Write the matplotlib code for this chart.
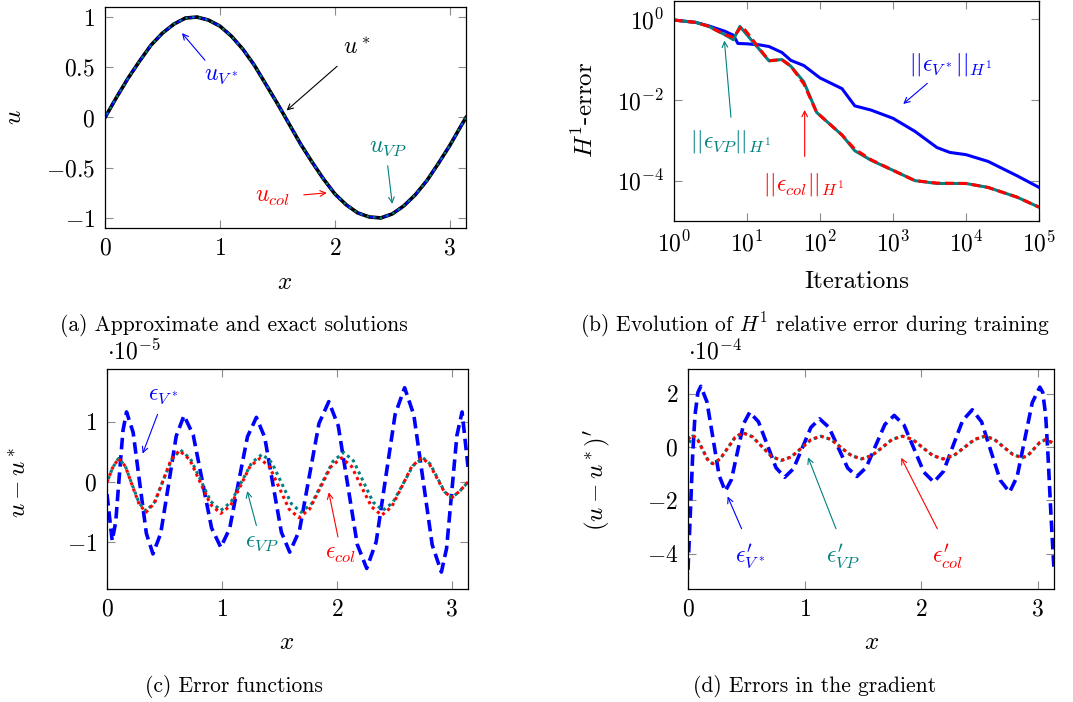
import numpy as np
import matplotlib
matplotlib.use("Agg")
from matplotlib import pyplot as plt
from matplotlib import ticker

plt.rcParams['font.family'] = 'serif'
plt.rcParams['font.serif'] = ['cmr10', 'DejaVu Serif']
plt.rcParams['mathtext.fontset'] = 'cm'
plt.rcParams['axes.formatter.use_mathtext'] = True
plt.rcParams['axes.unicode_minus'] = True

BLUE = (0, 0, 1)
TEAL = (0, 0.5, 0.5)
RED = (1, 0, 0)

# (a) approximate and exact solutions
x_sol = [0, 0.1, 0.2, 0.3, 0.4, 0.5, 0.6, 0.7, 0.8, 0.9, 1.0, 1.1, 1.2, 1.3, 1.4, 1.5,
         1.6, 1.7, 1.8, 1.9, 2.0, 2.1, 2.2, 2.3, 2.4, 2.5, 2.6, 2.7, 2.8, 2.9, 3.0, 3.1, 3.1416]
u_sol = [0, 0.20, 0.39, 0.56, 0.72, 0.84, 0.93, 0.99, 1.0, 0.97, 0.91, 0.81, 0.68, 0.52, 0.33, 0.14,
         -0.06, -0.26, -0.44, -0.61, -0.76, -0.87, -0.95, -0.99, -1.0, -0.96, -0.88, -0.77, -0.63,
         -0.46, -0.28, -0.08, 0.0]

# (b) H1 error vs iterations
it_v = [1, 2, 3, 5, 6.5, 7.5, 10, 15, 20, 30, 40, 60, 100, 200, 300, 500, 1000, 2000, 4000,
        6000, 1e4, 2e4, 5e4, 1e5]
err_v = [0.95, 0.83, 0.68, 0.50, 0.40, 0.25, 0.245, 0.23, 0.21, 0.15, 0.095, 0.071, 0.035,
         0.019, 0.0071, 0.0056, 0.0035, 0.00166, 6.6e-4, 5.0e-4, 4.4e-4, 3.0e-4, 1.32e-4, 6.8e-5]
it_vp = [1, 2, 3, 5, 6.5, 8, 20, 30, 40, 60, 90, 200, 300, 500, 1000, 2000, 4000, 1e4, 2e4,
         5e4, 1e5]
err_vp = [0.95, 0.83, 0.66, 0.41, 0.31, 0.66, 0.093, 0.10, 0.068, 0.028, 0.0049, 0.00135,
          5.5e-4, 3.2e-4, 1.8e-4, 1.0e-4, 8.5e-5, 8.5e-5, 6.8e-5, 3.9e-5, 2.2e-5]
it_col = [1, 2, 3, 5, 6.5, 8.5, 20, 30, 40, 60, 90, 200, 300, 500, 1000, 2000, 4000, 1e4,
          2e4, 5e4, 1e5]
err_col = [0.95, 0.83, 0.66, 0.41, 0.355, 0.68, 0.093, 0.10, 0.068, 0.025, 0.0049, 0.00135,
           6.0e-4, 3.3e-4, 1.8e-4, 1.0e-4, 8.7e-5, 8.5e-5, 6.8e-5, 3.9e-5, 2.2e-5]

# (c) error functions, units of 1e-5
xc_v = [0, 0.045, 0.076, 0.107, 0.139, 0.17, 0.2275, 0.285, 0.3425, 0.40, 0.4675, 0.535,
        0.6025, 0.67, 0.75, 0.83, 0.91, 0.99, 1.0675, 1.145, 1.2225, 1.30, 1.3725, 1.445,
        1.5175, 1.59, 1.675, 1.76, 1.845, 1.93, 2.0125, 2.095, 2.1775, 2.26, 2.3425, 2.425,
        2.5075, 2.59, 2.67, 2.75, 2.83, 2.91, 2.955, 3.0, 3.045, 3.09, 3.1416]
ec_v = [-0.2, -0.97, -0.66, 0.10, 0.85, 1.16, 0.82, -0.02, -0.85, -1.19, -0.85, -0.05,
        0.76, 1.10, 0.78, 0.01, -0.76, -1.08, -0.77, 0.0, 0.75, 1.07, 0.74, -0.05,
        -0.83, -1.16, -0.80, 0.09, 0.97, 1.33, 0.93, -0.05, -1.03, -1.43, -0.99, 0.07,
        1.12, 1.56, 1.11, 0.04, -1.04, -1.49, -1.10, -0.17, 0.77, 1.16, 0.25]
xc_vp = [0, 0.05, 0.10, 0.16, 0.22, 0.28, 0.34, 0.415, 0.49, 0.565, 0.64, 0.7275, 0.815,
         0.9025, 0.99, 1.08, 1.17, 1.26, 1.35, 1.435, 1.52, 1.605, 1.69, 1.7825, 1.875,
         1.9675, 2.06, 2.145, 2.23, 2.315, 2.40, 2.4875, 2.575, 2.6625, 2.75, 2.8125,
         2.875, 2.9375, 3.0, 3.07, 3.1416]
ec_vp = [0, 0.24, 0.39, 0.26, -0.05, -0.35, -0.48, -0.33, 0.03, 0.38, 0.53, 0.38, 0.03,
         -0.32, -0.47, -0.33, 0.0, 0.32, 0.46, 0.32, -0.02, -0.36, -0.50, -0.355, 0.0,
         0.345, 0.49, 0.35, 0.01, -0.33, -0.47, -0.34, -0.035, 0.27, 0.40, 0.30,
         0.07, -0.16, -0.26, -0.15, 0.0]
xc_col = [0, 0.05, 0.10, 0.16, 0.22, 0.28, 0.34, 0.4125, 0.485, 0.5575, 0.63, 0.72, 0.81,
          0.90, 0.99, 1.075, 1.16, 1.245, 1.33, 1.415, 1.5, 1.585, 1.67, 1.7625, 1.855,
          1.9475, 2.04, 2.1275, 2.215, 2.3025, 2.39, 2.4775, 2.565, 2.6525, 2.74, 2.805,
          2.87, 2.935, 3.0, 3.07, 3.1416]
ec_col = [0, 0.24, 0.39, 0.26, -0.06, -0.37, -0.50, -0.35, 0.01, 0.37, 0.52, 0.37, 0.0,
          -0.37, -0.52, -0.39, -0.07, 0.26, 0.39, 0.25, -0.10, -0.45, -0.59, -0.45, -0.10,
          0.25, 0.40, 0.26, -0.08, -0.41, -0.55, -0.41, -0.08, 0.26, 0.40, 0.30,
          0.07, -0.16, -0.26, -0.15, 0.0]

# (d) errors in the gradient, units of 1e-4
xd_v = [0, 0.02, 0.04, 0.06, 0.085, 0.11, 0.1625, 0.215, 0.2675, 0.32, 0.3725, 0.425,
        0.4775, 0.53, 0.605, 0.68, 0.755, 0.83, 0.905, 0.98, 1.055, 1.13, 1.21, 1.29, 1.37,
        1.45, 1.53, 1.61, 1.69, 1.77, 1.855, 1.94, 2.025, 2.11, 2.1925, 2.275, 2.3575,
        2.44, 2.52, 2.60, 2.68, 2.76, 2.825, 2.89, 2.955, 3.02, 3.045, 3.07, 3.09,
        3.115, 3.1416]
ed_v = [-4.6, -2.5, -0.3, 1.2, 2.05, 2.28, 1.70, 0.32, -1.07, -1.65, -1.22, -0.17,
        0.88, 1.31, 0.95, 0.09, -0.77, -1.13, -0.81, -0.04, 0.74, 1.06, 0.74, -0.02, -0.78,
        -1.10, -0.76, 0.05, 0.85, 1.19, 0.82, -0.06, -0.94, -1.31, -0.91, 0.05, 1.0,
        1.40, 0.95, -0.15, -1.24, -1.69, -1.11, 0.28, 1.67, 2.25, 2.05, 1.2, -0.3,
        -2.5, -4.6]
xd_g = [0, 0.04, 0.0825, 0.125, 0.1675, 0.21, 0.275, 0.34, 0.405, 0.47, 0.5525, 0.635,
        0.7175, 0.80, 0.885, 0.97, 1.055, 1.14, 1.2275, 1.315, 1.4025, 1.49, 1.5775, 1.665,
        1.7525, 1.84, 1.9275, 2.015, 2.1025, 2.19, 2.28, 2.37, 2.46, 2.55, 2.63, 2.71,
        2.79, 2.87, 2.92, 2.97, 3.02, 3.07, 3.1416]
ed_col = [0.30, 0.45, 0.29, -0.09, -0.46, -0.62, -0.45, -0.04, 0.37, 0.54, 0.39, 0.02,
          -0.35, -0.50, -0.37, -0.05, 0.28, 0.41, 0.29, -0.02, -0.32, -0.44, -0.32, -0.02,
          0.29, 0.41, 0.29, -0.02, -0.32, -0.44, -0.32, -0.02, 0.29, 0.41, 0.29, 0.0,
          -0.28, -0.40, -0.30, -0.06, 0.18, 0.28, 0.15]
ed_vp = [0.05, 0.42, 0.29, -0.09, -0.46, -0.62, -0.45, -0.04, 0.37, 0.54, 0.39, 0.02,
         -0.35, -0.50, -0.37, -0.05, 0.28, 0.41, 0.29, -0.02, -0.32, -0.44, -0.32, -0.02,
         0.29, 0.41, 0.29, -0.02, -0.32, -0.44, -0.32, -0.02, 0.29, 0.41, 0.29, 0.0,
         -0.28, -0.40, -0.30, -0.06, 0.18, 0.28, 0.12]

W, H = 1073, 702
fig = plt.figure(figsize=(W / 100, H / 100), dpi=100)

fs = 17       # annotations
tfs = 17      # tick labels
lfs = 18      # axis labels
cfs = 15.5    # captions


def box(l, t, r, b):
    return [l / W, 1 - b / H, (r - l) / W, (b - t) / H]


def plain(v, pos):
    s = '%g' % v
    return '$' + s.replace('-', '-') + '$'


def style(ax, linear=True):
    ax.tick_params(direction='in', top=True, right=True, length=6, width=0.8,
                   color='0.55', labelsize=tfs, pad=7)
    ax.tick_params(which='minor', direction='in', top=True, right=True, length=3.5,
                   width=0.7, color='0.55')
    if linear:
        ax.xaxis.set_major_formatter(ticker.FuncFormatter(plain))
        ax.yaxis.set_major_formatter(ticker.FuncFormatter(plain))
    for s in ax.spines.values():
        s.set_linewidth(0.9)


def arrow(ax, tail, tip, c):
    ax.annotate('', xy=tip, xytext=tail,
                arrowprops=dict(arrowstyle='->', color=c, lw=0.8, shrinkA=0, shrinkB=0))


# ---- (a)
ax = fig.add_axes(box(105, 7, 466, 228))
ax.plot(x_sol, u_sol, color=RED, lw=2.2, ls=(0, (1, 1.2)))
ax.plot(x_sol, u_sol, color='black', lw=2.6)
ax.plot(x_sol, u_sol, color=BLUE, lw=1.6, ls=(0, (3, 3)))
ax.plot(x_sol, u_sol, color=TEAL, lw=1.6, ls=(1.5, (1, 2)))
ax.set_xlim(0, np.pi)
ax.set_ylim(-1.1, 1.1)
ax.set_xticks([0, 1, 2, 3])
ax.set_yticks([-1, -0.5, 0, 0.5, 1])
style(ax)
ax.text(1.01, 0.42, r'$u_{V^*}$', color=BLUE, fontsize=fs, ha='center', va='center')
arrow(ax, (0.87, 0.57), (0.67, 0.84), BLUE)
ax.text(2.19, 0.69, r'$u^*$', color='black', fontsize=fs, ha='center', va='center')
arrow(ax, (2.02, 0.51), (1.58, 0.07), 'black')
ax.text(2.46, -0.29, r'$u_{VP}$', color=TEAL, fontsize=fs, ha='center', va='center')
arrow(ax, (2.46, -0.48), (2.50, -0.86), TEAL)
ax.text(1.46, -0.79, r'$u_{col}$', color=RED, fontsize=fs, ha='center', va='center')
arrow(ax, (1.73, -0.77), (1.93, -0.75), RED)
fig.text(285 / W, 1 - 283 / H, r'$x$', fontsize=lfs, ha='center', va='center')
fig.text(15 / W, 1 - 117 / H, r'$u$', fontsize=lfs, ha='center', va='center', rotation=90)
fig.text(234 / W, 1 - 325 / H, '(a) Approximate and exact solutions', fontsize=cfs,
         ha='center', va='center')

# ---- (b)
ax = fig.add_axes(box(674, 1, 1039, 221))
ax.plot(it_v, err_v, color=BLUE, lw=2.2)
ax.plot(it_vp, err_vp, color=TEAL, lw=2.2)
ax.plot(it_col, err_col, color=RED, lw=2.2, ls=(0, (2.8, 1.6)))
ax.set_xscale('log')
ax.set_yscale('log')
ax.set_xlim(1, 1e5)
ax.set_ylim(1e-5, 10 ** 0.45)
ax.set_yticks([1, 1e-2, 1e-4])
ax.yaxis.set_minor_locator(ticker.NullLocator())
ax.set_xticks([1, 10, 100, 1e3, 1e4, 1e5])
style(ax, linear=False)
ax.text(10 ** 3.79, 10 ** -1.13, r'$||\epsilon_{V^*}||_{H^1}$', color=BLUE, fontsize=fs,
        ha='center', va='center')
arrow(ax, (10 ** 3.47, 10 ** -1.59), (10 ** 3.14, 10 ** -2.10), BLUE)
ax.text(10 ** 0.77, 10 ** -3.03, r'$||\epsilon_{VP}||_{H^1}$', color=TEAL, fontsize=fs,
        ha='center', va='center')
arrow(ax, (10 ** 0.78, 10 ** -2.43), (10 ** 0.69, 10 ** -0.53), TEAL)
ax.text(10 ** 1.78, 10 ** -4.1, r'$||\epsilon_{col}||_{H^1}$', color=RED, fontsize=fs,
        ha='center', va='center')
arrow(ax, (10 ** 1.79, 10 ** -3.40), (10 ** 1.79, 10 ** -2.25), RED)
fig.text(857 / W, 1 - 282 / H, 'Iterations', fontsize=lfs, ha='center', va='center')
fig.text(585 / W, 1 - 110 / H, r'$H^1$-error', fontsize=lfs, ha='center', va='center',
         rotation=90)
fig.text(815 / W, 1 - 325 / H, r'(b) Evolution of $H^1$ relative error during training',
         fontsize=cfs, ha='center', va='center')

# ---- (c)
ax = fig.add_axes(box(107, 369, 468, 589))
ax.plot(xc_v, ec_v, color=BLUE, lw=2.6, ls=(0, (3.2, 1.6)))
ax.plot(xc_vp, ec_vp, color=TEAL, lw=2.2, ls=(1.1, (1, 1.2)))
ax.plot(xc_col, ec_col, color=RED, lw=2.2, ls=(0, (1, 1.2)))
ax.set_xlim(0, np.pi)
ax.set_ylim(-1.77, 1.87)
ax.set_xticks([0, 1, 2, 3])
ax.set_yticks([-1, 0, 1])
style(ax)
ax.text(0.49, 1.44, r'$\epsilon_{V^*}$', color=BLUE, fontsize=fs, ha='center', va='center')
arrow(ax, (0.44, 1.12), (0.31, 0.47), BLUE)
ax.text(1.35, -0.99, r'$\epsilon_{VP}$', color=TEAL, fontsize=fs, ha='center', va='center')
arrow(ax, (1.30, -0.72), (1.22, -0.15), TEAL)
ax.text(2.03, -1.19, r'$\epsilon_{col}$', color=RED, fontsize=fs, ha='center', va='center')
arrow(ax, (2.01, -0.91), (1.93, -0.17), RED)
ax.text(0.0, 1.02, r'$\cdot 10^{-5}$', transform=ax.transAxes, fontsize=tfs, ha='left',
        va='bottom')
fig.text(287 / W, 1 - 643 / H, r'$x$', fontsize=lfs, ha='center', va='center')
fig.text(20 / W, 1 - 482 / H, r'$u-u^*$', fontsize=lfs, ha='center', va='center', rotation=90)
fig.text(234 / W, 1 - 687 / H, '(c) Error functions', fontsize=cfs, ha='center', va='center')

# ---- (d)
ax = fig.add_axes(box(688, 369, 1054, 589))
ax.plot(xd_v, ed_v, color=BLUE, lw=2.6, ls=(0, (3.2, 1.6)))
ax.plot(xd_g, ed_vp, color=TEAL, lw=2.2, ls=(1.1, (1, 1.2)))
ax.plot(xd_g, ed_col, color=RED, lw=2.2, ls=(0, (1, 1.2)))
ax.set_xlim(0, np.pi)
ax.set_ylim(-5.32, 2.93)
ax.set_xticks([0, 1, 2, 3])
ax.set_yticks([-4, -2, 0, 2])
style(ax)
ax.text(0.53, -4.1, r"$\epsilon^{\prime}_{V^*}$", color=BLUE, fontsize=fs, ha='center',
        va='center')
arrow(ax, (0.46, -3.06), (0.34, -1.85), BLUE)
ax.text(1.33, -4.1, r"$\epsilon^{\prime}_{VP}$", color=TEAL, fontsize=fs, ha='center',
        va='center')
arrow(ax, (1.27, -3.06), (1.03, -0.38), TEAL)
ax.text(2.23, -4.1, r"$\epsilon^{\prime}_{col}$", color=RED, fontsize=fs, ha='center',
        va='center')
arrow(ax, (2.14, -3.06), (1.83, -0.40), RED)
ax.text(0.0, 1.02, r'$\cdot 10^{-4}$', transform=ax.transAxes, fontsize=tfs, ha='left',
        va='bottom')
fig.text(872 / W, 1 - 643 / H, r'$x$', fontsize=lfs, ha='center', va='center')
fig.text(597 / W, 1 - 480 / H, r"$(u-u^*)'$", fontsize=lfs, ha='center', va='center',
         rotation=90)
fig.text(815 / W, 1 - 687 / H, '(d) Errors in the gradient', fontsize=cfs, ha='center',
         va='center')

fig.savefig('out.png', dpi=100)
